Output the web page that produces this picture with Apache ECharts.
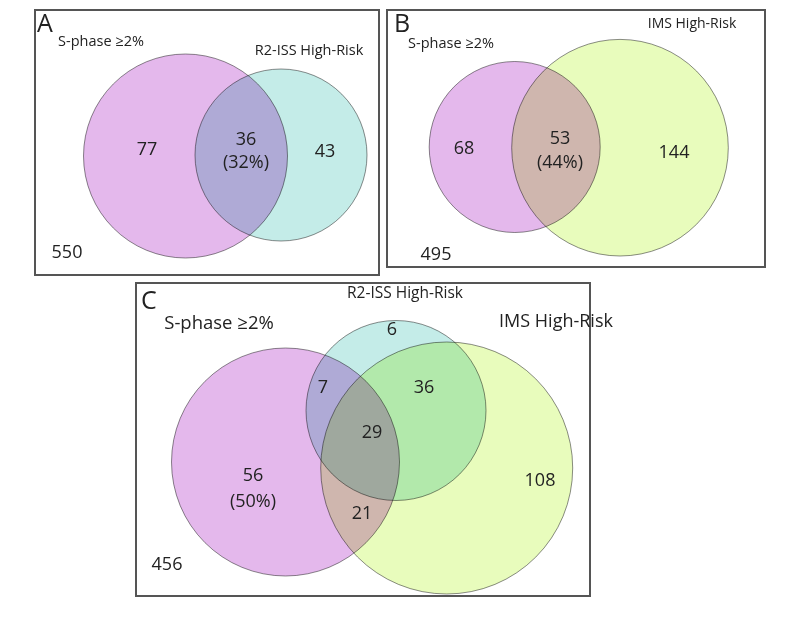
<!DOCTYPE html>
<html><head><meta charset="utf-8">
<script src="https://cdn.jsdelivr.net/npm/echarts@6/dist/echarts.min.js"></script>
<style>html,body{margin:0;padding:0;background:#fff}#c{width:800px;height:617px}</style>
</head><body><div id="c"></div>
<script>
// ---- data ----
const panelNames = ['A', 'B', 'C'];
const setNames = ['S-phase ≥2%', 'R2-ISS High-Risk', 'IMS High-Risk'];
// panel A: S-phase vs R2-ISS
const countsA = [77, 36, 43];          // S only, both, R2 only
const pctA = ['32%'];
const outsideA = 550;
// panel B: S-phase vs IMS
const countsB = [68, 53, 144];         // S only, both, IMS only
const pctB = ['44%'];
const outsideB = 495;
// panel C: S-phase, R2-ISS, IMS
const countsC = [56, 6, 108, 7, 36, 21, 29]; // S, R2, IMS, S∩R2, R2∩IMS, S∩IMS, all
const pctC = ['50%'];
const outsideC = 456;

// ---- layout (diagram geometry in plot units) ----
const frames = [[35, 10, 379, 275], [387, 10, 765, 267], [136, 283, 590, 596]];
const setColors = ['#e4b8ec', '#c4ece8', '#e8fcbc'];
// [cx, cy, r, colourIndex]
const circles = [
  [185.5, 156, 102, 0], [281, 155, 86, 1],
  [514.7, 147, 85.5, 0], [620, 147.7, 108.3, 2],
  [285.5, 462, 114, 0], [396, 410.5, 90, 1], [446.7, 468, 126, 2]
];
const FONT = '"Open Sans", "Liberation Sans", sans-serif';
// [x, y, text, size, align, lineHeight]
const labels = [
  [37, 25, panelNames[0], 25, 'left'],
  [101, 42, setNames[0], 14.5, 'center'],
  [309, 51, setNames[1], 14.5, 'center'],
  [147, 150, String(countsA[0]), 18, 'center'],
  [246, 151, countsA[1] + '\n(' + pctA[0] + ')', 18, 'center', 23],
  [325, 152, String(countsA[2]), 18, 'center'],
  [67, 253, String(outsideA), 18, 'center'],

  [394, 25, panelNames[1], 25, 'left'],
  [692, 24, setNames[2], 14, 'center'],
  [451, 44, setNames[0], 14.5, 'center'],
  [464, 149, String(countsB[0]), 18, 'center'],
  [560, 151, countsB[1] + '\n(' + pctB[0] + ')', 18, 'center', 24],
  [674, 153, String(countsB[2]), 18, 'center'],
  [436, 255, String(outsideB), 18, 'center'],

  [141, 302, panelNames[2], 25, 'left'],
  [405, 294, setNames[1], 15.5, 'center'],
  [219, 324, setNames[0], 18.5, 'center'],
  [556, 322, setNames[2], 18, 'center'],
  [392, 330, String(countsC[1]), 18, 'center'],
  [323, 388, String(countsC[3]), 18, 'center'],
  [424, 388, String(countsC[4]), 18, 'center'],
  [372, 433, String(countsC[6]), 18, 'center'],
  [253, 489, countsC[0] + '\n(' + pctC[0] + ')', 18, 'center', 26],
  [362, 514, String(countsC[5]), 18, 'center'],
  [540, 481, String(countsC[2]), 18, 'center'],
  [167, 565, String(outsideC), 18, 'center']
];

const chart = echarts.init(document.getElementById('c'), null, {renderer: 'canvas'});
chart.setOption({
  animation: false,
  backgroundColor: '#fff',
  grid: {left: 0, right: 0, top: 0, bottom: 0},
  xAxis: {type: 'value', min: 0, max: 800, show: false},
  yAxis: {type: 'value', min: 0, max: 617, inverse: true, show: false},
  series: [
    {
      type: 'custom', coordinateSystem: 'cartesian2d',
      data: frames,
      renderItem: (p, api) => {
        const a = api.coord([api.value(0), api.value(1)]);
        const b = api.coord([api.value(2), api.value(3)]);
        return {type: 'rect', shape: {x: a[0], y: a[1], width: b[0] - a[0], height: b[1] - a[1]},
          style: {fill: 'none', stroke: '#555', lineWidth: 2}};
      }
    },
    {
      type: 'custom', coordinateSystem: 'cartesian2d',
      blendMode: 'multiply',
      data: circles,
      renderItem: (p, api) => {
        const c = api.coord([api.value(0), api.value(1)]);
        const r = api.size([api.value(2), 0])[0];
        return {type: 'circle', shape: {cx: c[0], cy: c[1], r: r},
          style: {fill: setColors[api.value(3)], stroke: 'rgba(80,80,80,0.65)', lineWidth: 1}};
      }
    },
    {
      type: 'custom', coordinateSystem: 'cartesian2d',
      data: labels.map(l => [l[0], l[1]]),
      renderItem: (p, api) => {
        const l = labels[p.dataIndex];
        const c = api.coord([api.value(0), api.value(1)]);
        return {type: 'text', x: c[0], y: c[1],
          style: {text: l[2], fill: '#222', font: l[3] + 'px ' + FONT,
            align: l[4], verticalAlign: 'middle', lineHeight: l[5] || l[3] * 1.2}};
      }
    }
  ]
});
</script></body></html>
